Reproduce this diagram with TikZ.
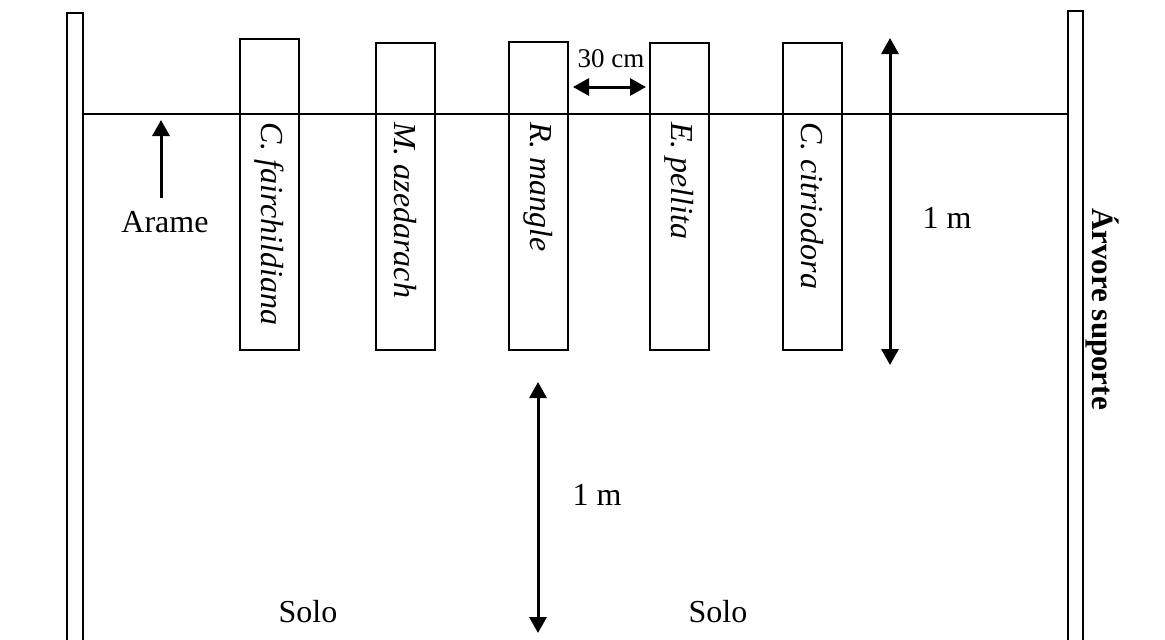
\documentclass[tikz,border=0pt]{standalone}
\usepackage{fontspec}
\setmainfont{Liberation Serif}
\usetikzlibrary{arrows.meta}
\begin{document}
\begin{tikzpicture}[x=1pt,y=-1pt,
  pole/.style={draw,line width=2pt},
  box/.style={draw,line width=2pt},
  wire/.style={line width=2pt},
  dim/.style={line width=3pt,{Triangle[length=16pt,width=17pt]}-{Triangle[length=16pt,width=17pt]}},
  lab/.style={font=\fontsize{32}{36}\selectfont,inner sep=0pt},
  sp/.style={font=\fontsize{32}{36}\selectfont\itshape,inner sep=0pt,rotate=-90,anchor=west}]
\useasboundingbox (0,0) rectangle (1165,640);
% poles
\draw[pole] (83,660) -- (83,13) -- (67,13) -- (67,660);
\draw[pole] (1083,660) -- (1083,11) -- (1068,11) -- (1068,660);
\coordinate (wl) at (83,114);
\coordinate (wr) at (1068,114);
\draw[wire] (wl) -- (wr);
% boxes
\foreach \n/\xa/\xb/\yt/\t in {b1/240/299/39/{C. fairchildiana},b2/376/435/43/{M. azedarach},b3/509/568/42/{R. mangle},b4/650/709/43/{E. pellita},b5/783/842/43/{C. citriodora}}{
  \draw[box] (\xa,\yt) rectangle (\xb,350);
  \node[sp] (\n) at ({(\xa+\xb)/2},122) {\t};
}
% 30 cm
\coordinate (c1) at (573,87);
\coordinate (c2) at (646,87);
\draw[dim] (c1) -- (c2);
\node[lab,font=\fontsize{27}{30}\selectfont] (l30) at (611,59) {30 cm};
% Arame
\node[lab] (arame) at (165,222) {Arame};
\coordinate (at) at (161,120);
\draw[line width=3pt,-{Triangle[length=16pt,width=17pt]}] (161,198) -- (at);
% right 1 m
\coordinate (r1) at (890,38);
\coordinate (r2) at (890,365);
\draw[dim] (r1) -- (r2);
\node[lab] (lr) at (947,218) {1 m};
% bottom 1 m
\coordinate (d1) at (538,382);
\coordinate (d2) at (538,633);
\draw[dim] (d1) -- (d2);
\node[lab] (ld) at (597,495) {1 m};
% Solo
\node[lab] (s1) at (308,612) {Solo};
\node[lab] (s2) at (718,612) {Solo};
% Arvore
\node[lab,font=\fontsize{31}{36}\selectfont\bfseries,rotate=-90] (arv) at (1102,309) {Árvore suporte};
\end{tikzpicture}
\end{document}
